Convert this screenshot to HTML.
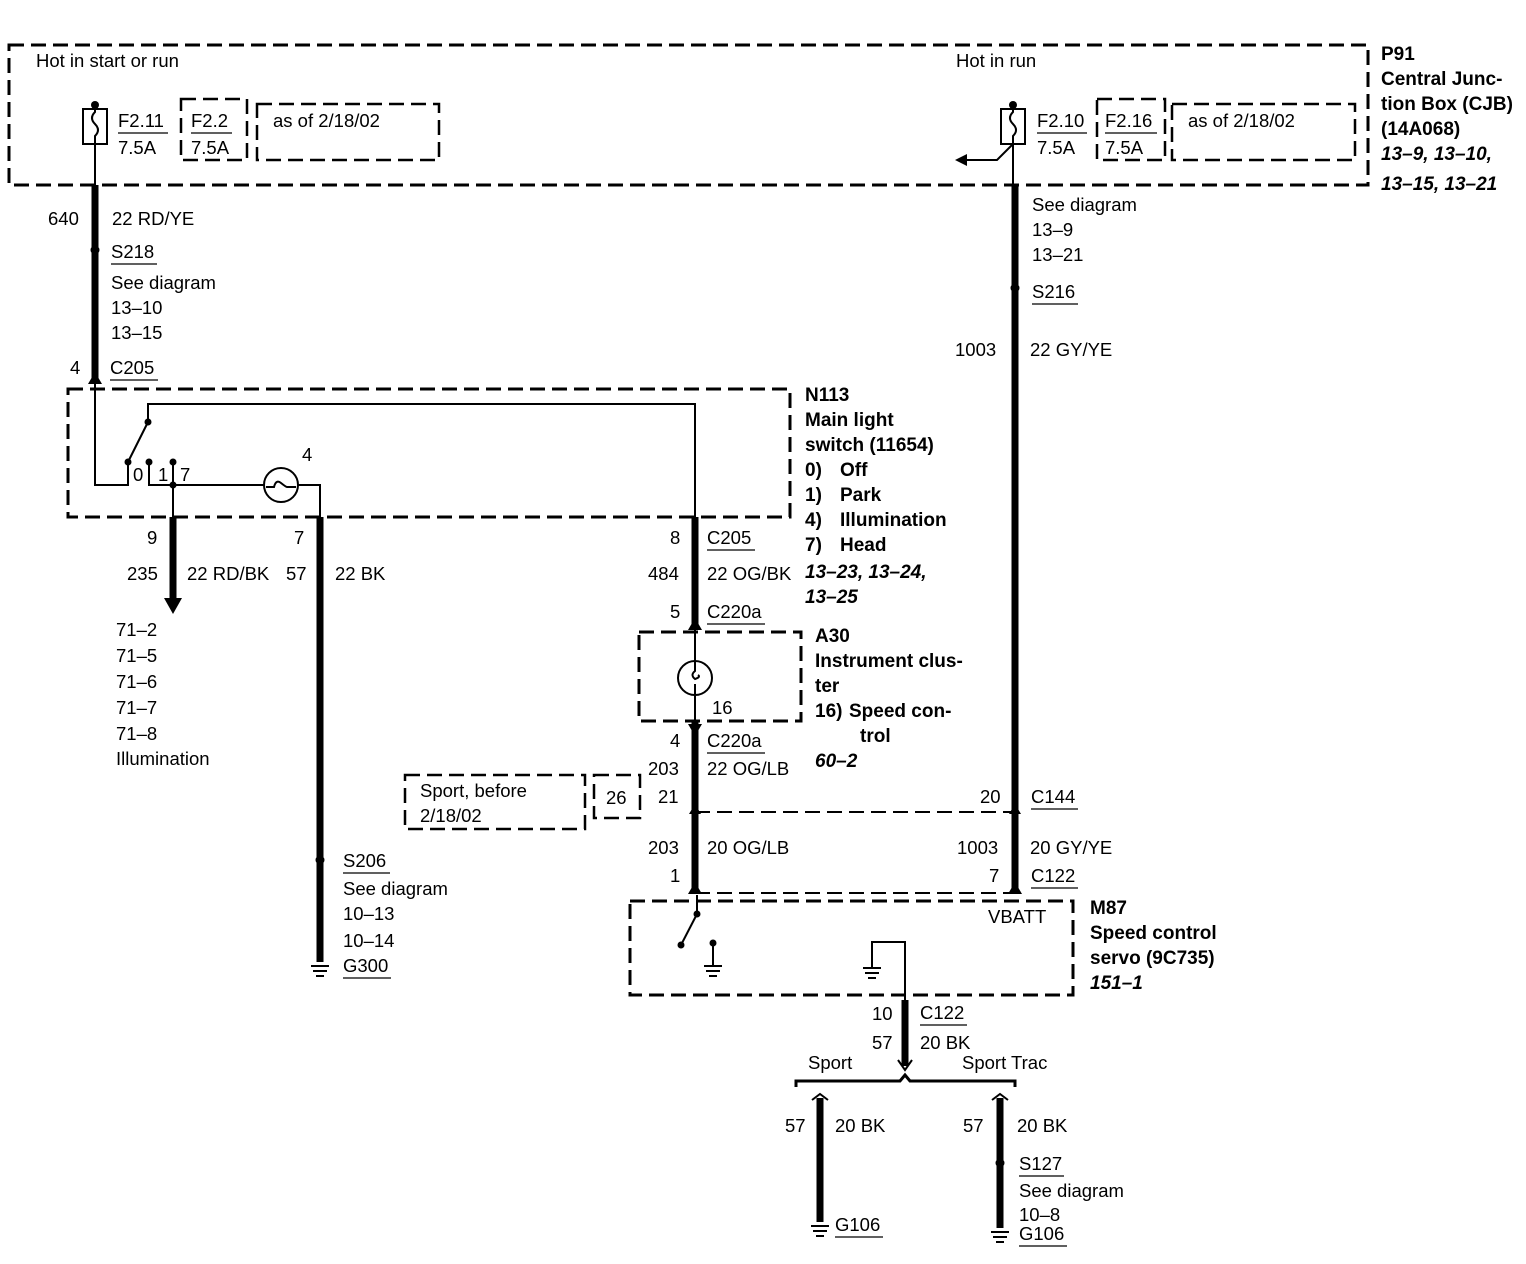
<!DOCTYPE html>
<html><head><meta charset="utf-8"><style>
html,body{margin:0;padding:0;background:#fff}
svg{display:block}
text{font-family:"Liberation Sans",Arial,sans-serif;font-size:18.5px;fill:#000}
.b{font-weight:bold;font-size:19px}
.bi{font-weight:bold;font-style:italic;font-size:19px}
.d{fill:none;stroke:#000;stroke-width:3;stroke-dasharray:15,7}
.t{fill:none;stroke:#000;stroke-width:2}
.k{fill:none;stroke:#000;stroke-width:7}
.u{stroke:#000;stroke-width:1.3}
</style></head><body>
<svg width="1526" height="1264" viewBox="0 0 1526 1264" xmlns="http://www.w3.org/2000/svg">
<rect class="d" x="9" y="45" width="1359" height="140"/>
<text x="36" y="67">Hot in start or run</text>
<text x="956" y="67">Hot in run</text>
<circle cx="95" cy="105" r="4"/>
<rect class="t" x="83" y="109" width="24" height="35"/>
<path class="t" d="M95 102V112 q-6 6 0 12 q6 6 0 12 V185"/>
<text x="118" y="127">F2.11</text><line class="u" x1="118" y1="133" x2="168" y2="133"/>
<text x="118" y="154">7.5A</text>
<rect class="d" x="181" y="99" width="66" height="61" style="stroke-width:2.5"/>
<text x="191" y="127">F2.2</text><line class="u" x1="191" y1="133" x2="232" y2="133"/>
<text x="191" y="154">7.5A</text>
<rect class="d" x="257" y="104" width="182" height="56" style="stroke-width:2.5"/>
<text x="273" y="127">as of 2/18/02</text>
<circle cx="1013" cy="105" r="4"/>
<rect class="t" x="1001" y="109" width="24" height="35"/>
<path class="t" d="M1013 102V112 q-6 6 0 12 q6 6 0 12 V185"/>
<path class="t" d="M1013 144 L997 160 H962"/>
<path d="M955 160 l12 -6 v12z"/>
<text x="1037" y="127">F2.10</text><line class="u" x1="1037" y1="133" x2="1087" y2="133"/>
<text x="1037" y="154">7.5A</text>
<rect class="d" x="1097" y="99" width="68" height="61" style="stroke-width:2.5"/>
<text x="1105" y="127">F2.16</text><line class="u" x1="1105" y1="133" x2="1157" y2="133"/>
<text x="1105" y="154">7.5A</text>
<rect class="d" x="1172" y="104" width="183" height="56" style="stroke-width:2.5"/>
<text x="1188" y="127">as of 2/18/02</text>
<text class="b" x="1381" y="60">P91</text>
<text class="b" x="1381" y="85">Central Junc-</text>
<text class="b" x="1381" y="110">tion Box (CJB)</text>
<text class="b" x="1381" y="135">(14A068)</text>
<text class="bi" x="1381" y="160">13–9, 13–10,</text>
<text class="bi" x="1381" y="190">13–15, 13–21</text>
<line class="k" x1="95" y1="185" x2="95" y2="384"/>
<path d="M95 372 l-7 12 h14z"/>
<circle cx="95" cy="250" r="4.5"/>
<text x="48" y="225">640</text><text x="112" y="225">22 RD/YE</text>
<text x="111" y="258">S218</text><line class="u" x1="111" y1="264" x2="157" y2="264"/>
<text x="111" y="289">See diagram</text>
<text x="111" y="314">13–10</text>
<text x="111" y="339">13–15</text>
<text x="70" y="374">4</text>
<text x="110" y="374">C205</text><line class="u" x1="110" y1="380" x2="158" y2="380"/>
<rect class="d" x="68" y="389" width="722" height="128"/>
<path class="t" d="M95 384V485H128V462"/>
<circle cx="128" cy="462" r="3.5"/><circle cx="148" cy="422" r="3.5"/>
<line class="t" x1="128" y1="462" x2="148" y2="422"/>
<path class="t" d="M148 422V404H695V517"/>
<circle cx="149" cy="462" r="3.5"/><circle cx="173" cy="462" r="3.5"/>
<path class="t" d="M149 462V485H265 M173 462V517 M297 485H320V517"/>
<circle cx="173" cy="485" r="3.5"/>
<circle class="t" cx="281" cy="485" r="17"/>
<path class="t" d="M266 487h8 q2 -8 7 -4 q5 4 6 4 h9"/>
<text x="133" y="481">0</text><text x="158" y="481">1</text><text x="180" y="481">7</text>
<text x="302" y="461">4</text>
<text class="b" x="805" y="401">N113</text>
<text class="b" x="805" y="426">Main light</text>
<text class="b" x="805" y="451">switch (11654)</text>
<text class="b" x="805" y="476">0)</text><text class="b" x="840" y="476">Off</text>
<text class="b" x="805" y="501">1)</text><text class="b" x="840" y="501">Park</text>
<text class="b" x="805" y="526">4)</text><text class="b" x="840" y="526">Illumination</text>
<text class="b" x="805" y="551">7)</text><text class="b" x="840" y="551">Head</text>
<text class="bi" x="805" y="578">13–23, 13–24,</text>
<text class="bi" x="805" y="603">13–25</text>
<line class="k" x1="173" y1="517" x2="173" y2="600"/>
<path d="M164 598 h18 l-9 16z"/>
<text x="147" y="544">9</text>
<text x="127" y="580">235</text><text x="187" y="580">22 RD/BK</text>
<text x="116" y="636">71–2</text><text x="116" y="662">71–5</text><text x="116" y="688">71–6</text>
<text x="116" y="714">71–7</text><text x="116" y="740">71–8</text><text x="116" y="765">Illumination</text>
<line class="k" x1="320" y1="517" x2="320" y2="962"/>
<text x="294" y="544">7</text>
<text x="286" y="580">57</text><text x="335" y="580">22 BK</text>
<circle cx="320" cy="860" r="4.5"/>
<text x="343" y="867">S206</text><line class="u" x1="343" y1="873" x2="390" y2="873"/>
<text x="343" y="895">See diagram</text>
<text x="343" y="920">10–13</text>
<text x="343" y="947">10–14</text>
<text x="343" y="972">G300</text><line class="u" x1="343" y1="978" x2="391" y2="978"/>
<path class="t" d="M311 966h18M313 971h14M316 976h8"/>
<line class="k" x1="695" y1="517" x2="695" y2="630"/>
<path d="M695 618 l-7 12 h14z"/>
<text x="670" y="544">8</text>
<text x="707" y="544">C205</text><line class="u" x1="707" y1="550" x2="755" y2="550"/>
<text x="648" y="580">484</text><text x="707" y="580">22 OG/BK</text>
<text x="670" y="618">5</text>
<text x="707" y="618">C220a</text><line class="u" x1="707" y1="624" x2="765" y2="624"/>
<rect class="d" x="639" y="632" width="162" height="89"/>
<line class="t" x1="695" y1="630" x2="695" y2="722"/>
<circle class="t" cx="695" cy="678" r="17" style="fill:#fff"/>
<path class="t" d="M695 661v10 q-5 4 0 8 q6 -2 3 -4 M695 684v11"/>
<text x="712" y="714">16</text>
<text class="b" x="815" y="642">A30</text>
<text class="b" x="815" y="667">Instrument clus-</text>
<text class="b" x="815" y="692">ter</text>
<text class="b" x="815" y="717">16)</text><text class="b" x="849" y="717">Speed con-</text>
<text class="b" x="860" y="742">trol</text>
<text class="bi" x="815" y="767">60–2</text>
<line class="k" x1="695" y1="722" x2="695" y2="893"/>
<path d="M695 736 l-7 -12 h14z"/>
<text x="670" y="747">4</text>
<text x="707" y="747">C220a</text><line class="u" x1="707" y1="753" x2="765" y2="753"/>
<text x="648" y="775">203</text><text x="707" y="775">22 OG/LB</text>
<text x="658" y="803">21</text>
<path d="M695 804 l-6 10 h12z"/>
<path class="d" d="M695 812H1015" style="stroke-width:2"/>
<path d="M1015 804 l-6 10 h12z"/>
<text x="980" y="803">20</text>
<text x="1031" y="803">C144</text><line class="u" x1="1031" y1="809" x2="1078" y2="809"/>
<rect class="d" x="405" y="775" width="180" height="54" style="stroke-width:2.5"/>
<text x="420" y="797">Sport, before</text><text x="420" y="822">2/18/02</text>
<rect class="d" x="594" y="775" width="46" height="43" style="stroke-width:2.5"/>
<text x="606" y="804">26</text>
<text x="648" y="854">203</text><text x="707" y="854">20 OG/LB</text>
<text x="670" y="882">1</text>
<path d="M695 882 l-7 12 h14z"/>
<line class="k" x1="1015" y1="185" x2="1015" y2="893"/>
<circle cx="1015" cy="288" r="4.5"/>
<text x="1032" y="211">See diagram</text>
<text x="1032" y="236">13–9</text>
<text x="1032" y="261">13–21</text>
<text x="1032" y="298">S216</text><line class="u" x1="1032" y1="304" x2="1078" y2="304"/>
<text x="955" y="356">1003</text><text x="1030" y="356">22 GY/YE</text>
<text x="957" y="854">1003</text><text x="1030" y="854">20 GY/YE</text>
<text x="989" y="882">7</text>
<text x="1031" y="882">C122</text><line class="u" x1="1031" y1="888" x2="1078" y2="888"/>
<path d="M1015 882 l-7 12 h14z"/>
<path class="d" d="M695 893H1015" style="stroke-width:2"/>
<rect class="d" x="630" y="901" width="443" height="94"/>
<text x="988" y="923">VBATT</text>
<line class="t" x1="697" y1="895" x2="697" y2="912"/>
<circle cx="697" cy="914" r="3.5"/><circle cx="681" cy="945" r="3.5"/>
<line class="t" x1="697" y1="914" x2="681" y2="945"/>
<circle cx="713" cy="943" r="3.5"/>
<path class="t" d="M713 943V965M704 966h18M706 971h14M709 976h8"/>
<path class="t" d="M872 968V942H905V1000"/>
<path class="t" d="M863 968h18M865 973h14M868 978h8"/>
<line class="k" x1="905" y1="1000" x2="905" y2="1066"/>
<path d="M898 1060 l7 10 l7 -10" class="t"/>
<text class="b" x="1090" y="914">M87</text>
<text class="b" x="1090" y="939">Speed control</text>
<text class="b" x="1090" y="964">servo (9C735)</text>
<text class="bi" x="1090" y="989">151–1</text>
<text x="872" y="1020">10</text>
<text x="920" y="1019">C122</text><line class="u" x1="920" y1="1025" x2="967" y2="1025"/>
<text x="872" y="1049">57</text><text x="920" y="1049">20 BK</text>
<text x="808" y="1069">Sport</text><text x="962" y="1069">Sport Trac</text>
<path class="t" style="stroke-width:3" d="M796 1087V1081H900L905 1075L910 1081H1015V1087"/>
<line class="k" x1="820" y1="1098" x2="820" y2="1222"/>
<path d="M812 1100 l8 -6 l8 6" class="t"/>
<text x="785" y="1132">57</text><text x="835" y="1132">20 BK</text>
<path class="t" d="M811 1226h18M813 1231h14M816 1236h8"/>
<text x="835" y="1231">G106</text><line class="u" x1="835" y1="1237" x2="883" y2="1237"/>
<line class="k" x1="1000" y1="1098" x2="1000" y2="1228"/>
<path d="M992 1100 l8 -6 l8 6" class="t"/>
<text x="963" y="1132">57</text><text x="1017" y="1132">20 BK</text>
<circle cx="1000" cy="1163" r="4.5"/>
<text x="1019" y="1170">S127</text><line class="u" x1="1019" y1="1176" x2="1064" y2="1176"/>
<text x="1019" y="1197">See diagram</text>
<text x="1019" y="1221">10–8</text>
<text x="1019" y="1240">G106</text><line class="u" x1="1019" y1="1246" x2="1067" y2="1246"/>
<path class="t" d="M991 1232h18M993 1237h14M996 1242h8"/>
</svg>
</body></html>
